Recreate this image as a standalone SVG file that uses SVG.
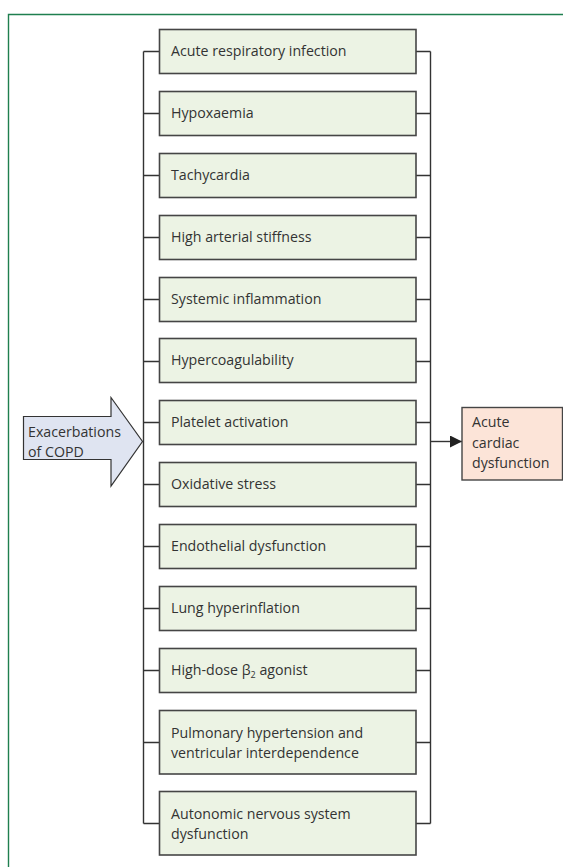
<svg xmlns="http://www.w3.org/2000/svg" width="563" height="867" viewBox="0 0 563 867">
<style>
.box{fill:#ecf3e4;stroke:#454545;stroke-width:1.6}
.t{font-family:"Open Sans","Noto Sans",sans-serif;font-size:14.2px;fill:#333}
.ln{stroke:#333;stroke-width:1.4;fill:none}
</style>
<defs>
<marker id="ah" viewBox="0 0 10 10" refX="10" refY="5" markerWidth="12" markerHeight="12" markerUnits="userSpaceOnUse" orient="auto">
<path d="M0,0 L10,5 L0,10 z" fill="#222"/>
</marker>
</defs>
<rect width="563" height="867" fill="#fff"/>
<path d="M8.5,867 V14.5 H563" fill="none" stroke="#1f7f4f" stroke-width="1.4"/>
<g id="connectors">
<path class="ln" d="M143.5,51.5 V823.5 M430.5,51.5 V823.5"/>
<path class="ln" d="M143.5,51.5 H159.5 M143.5,113.5 H159.5 M143.5,175.5 H159.5 M143.5,237.5 H159.5 M143.5,299.5 H159.5 M143.5,361.5 H159.5 M143.5,422.5 H159.5 M143.5,484.5 H159.5 M143.5,546.5 H159.5 M143.5,608.5 H159.5 M143.5,670.5 H159.5 M143.5,742.5 H159.5 M143.5,823.5 H159.5"/>
<path class="ln" d="M416,51.5 H430.5 M416,113.5 H430.5 M416,175.5 H430.5 M416,237.5 H430.5 M416,299.5 H430.5 M416,361.5 H430.5 M416,422.5 H430.5 M416,484.5 H430.5 M416,546.5 H430.5 M416,608.5 H430.5 M416,670.5 H430.5 M416,742.5 H430.5 M416,823.5 H430.5"/>
<path class="ln" d="M430.5,441.5 H462" marker-end="url(#ah)"/>
</g>
<g id="exacerbations">
<polygon points="23.5,416.5 111,416.5 111,397.5 142.5,441.5 111,486 111,459.5 23.5,459.5" fill="#dfe4f1" stroke="#333" stroke-width="1.2"/>
<text class="t" x="28" y="437">Exacerbations</text>
<text class="t" x="28" y="457">of COPD</text>
</g>
<g id="n1"><rect class="box" x="159.5" y="29.5" width="256.5" height="44"/><text class="t" x="171" y="56">Acute respiratory infection</text></g>
<g id="n2"><rect class="box" x="159.5" y="91.5" width="256.5" height="44"/><text class="t" x="171" y="118">Hypoxaemia</text></g>
<g id="n3"><rect class="box" x="159.5" y="153.5" width="256.5" height="44"/><text class="t" x="171" y="180">Tachycardia</text></g>
<g id="n4"><rect class="box" x="159.5" y="215.5" width="256.5" height="44"/><text class="t" x="171" y="242">High arterial stiffness</text></g>
<g id="n5"><rect class="box" x="159.5" y="277.5" width="256.5" height="44"/><text class="t" x="171" y="304">Systemic inflammation</text></g>
<g id="n6"><rect class="box" x="159.5" y="338.5" width="256.5" height="44"/><text class="t" x="171" y="365">Hypercoagulability</text></g>
<g id="n7"><rect class="box" x="159.5" y="400.5" width="256.5" height="44"/><text class="t" x="171" y="427">Platelet activation</text></g>
<g id="n8"><rect class="box" x="159.5" y="462.5" width="256.5" height="44"/><text class="t" x="171" y="489">Oxidative stress</text></g>
<g id="n9"><rect class="box" x="159.5" y="524.5" width="256.5" height="44"/><text class="t" x="171" y="551">Endothelial dysfunction</text></g>
<g id="n10"><rect class="box" x="159.5" y="586.5" width="256.5" height="44"/><text class="t" x="171" y="613">Lung hyperinflation</text></g>
<g id="n11"><rect class="box" x="159.5" y="648.5" width="256.5" height="44"/><text class="t" x="171" y="675">High-dose β<tspan font-size="9" dy="3">2</tspan><tspan dy="-3"> agonist</tspan></text></g>
<g id="n12"><rect class="box" x="159.5" y="710.5" width="256.5" height="63.5"/><text class="t" x="171" y="737.5">Pulmonary hypertension and</text><text class="t" x="171" y="757.5">ventricular interdependence</text></g>
<g id="n13"><rect class="box" x="159.5" y="791.5" width="256.5" height="63.5"/><text class="t" x="171" y="818.5">Autonomic nervous system</text><text class="t" x="171" y="838.5">dysfunction</text></g>
<g id="outcome"><rect x="462" y="407.5" width="100.5" height="72.5" fill="#fce4d8" stroke="#454545" stroke-width="1.4"/>
<text class="t" x="472" y="427">Acute</text><text class="t" x="472" y="447.5">cardiac</text><text class="t" x="472" y="468">dysfunction</text></g>
</svg>
